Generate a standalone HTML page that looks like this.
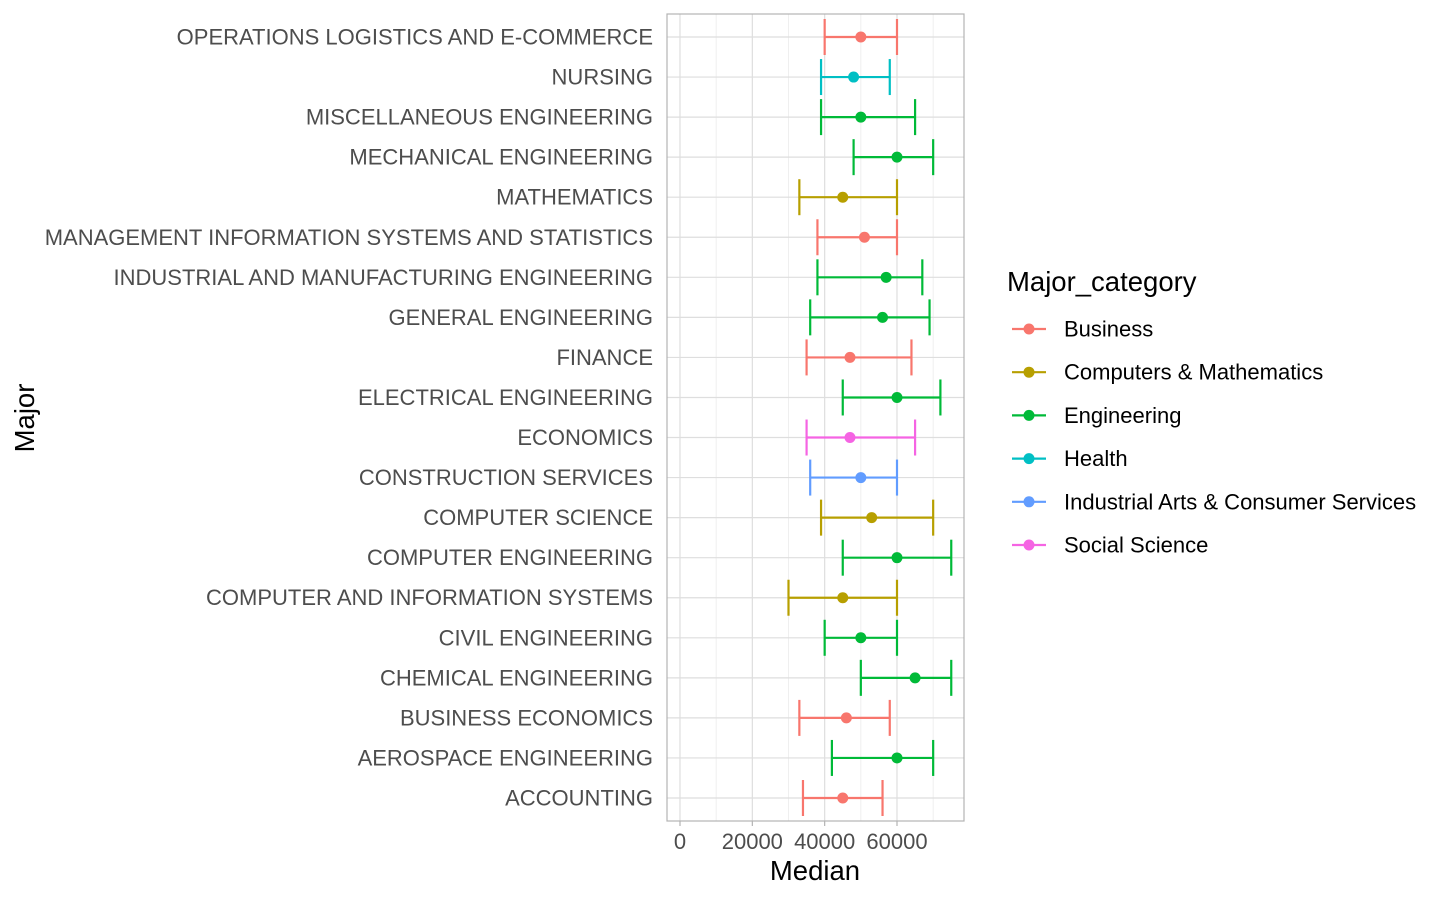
<!DOCTYPE html>
<html><head><meta charset="utf-8"><style>
html,body{margin:0;padding:0;background:#fff;}
svg{display:block;font-family:"Liberation Sans",sans-serif;}
</style></head><body>
<svg id="chart" width="1440" height="900" xmlns="http://www.w3.org/2000/svg"></svg>
<script>
const majors=["ACCOUNTING","AEROSPACE ENGINEERING","BUSINESS ECONOMICS","CHEMICAL ENGINEERING","CIVIL ENGINEERING","COMPUTER AND INFORMATION SYSTEMS","COMPUTER ENGINEERING","COMPUTER SCIENCE","CONSTRUCTION SERVICES","ECONOMICS","ELECTRICAL ENGINEERING","FINANCE","GENERAL ENGINEERING","INDUSTRIAL AND MANUFACTURING ENGINEERING","MANAGEMENT INFORMATION SYSTEMS AND STATISTICS","MATHEMATICS","MECHANICAL ENGINEERING","MISCELLANEOUS ENGINEERING","NURSING","OPERATIONS LOGISTICS AND E-COMMERCE"];
const categoryOf=["Business","Engineering","Business","Engineering","Engineering","Computers & Mathematics","Engineering","Computers & Mathematics","Industrial Arts & Consumer Services","Social Science","Engineering","Business","Engineering","Engineering","Business","Computers & Mathematics","Engineering","Engineering","Health","Business"];
const medians=[45000,60000,46000,65000,50000,45000,60000,53000,50000,47000,60000,47000,56000,57000,51000,45000,60000,50000,48000,50000];
const p25=[34000,42000,33000,50000,40000,30000,45000,39000,36000,35000,45000,35000,36000,38000,38000,33000,48000,39000,39000,40000];
const p75=[56000,70000,58000,75000,60000,60000,75000,70000,60000,65000,72000,64000,69000,67000,60000,60000,70000,65000,58000,60000];
const legendCats=["Business","Computers & Mathematics","Engineering","Health","Industrial Arts & Consumer Services","Social Science"];
const legendColors=["#F8766D","#B79F00","#00BA38","#00BFC4","#619CFF","#F564E3"];
const xTicks=[0,20000,40000,60000];
const xMinor=[10000,30000,50000,70000];

const NS="http://www.w3.org/2000/svg";
const svg=document.getElementById('chart');
function el(tag,attrs,parent){const e=document.createElementNS(NS,tag);for(const k in attrs)e.setAttribute(k,attrs[k]);(parent||svg).appendChild(e);return e;}
const PL=667,PR=964,PT=14,PB=821;
const x=v=>680+v*(897-680)/60000;
const y=i=>798-i*(798-37)/19;
const colorOf=c=>legendColors[legendCats.indexOf(c)];

const panel=el('g',{});


xMinor.forEach(v=>{const l=el('line',{x1:x(v),x2:x(v),y1:PT,y2:PB,stroke:'#efefef','stroke-width':1},panel);});
xTicks.forEach(v=>{const l=el('line',{x1:x(v),x2:x(v),y1:PT,y2:PB,stroke:'#dedede','stroke-width':1.2},panel);});
majors.forEach((m,i)=>{const l=el('line',{x1:PL,x2:PR,y1:y(i),y2:y(i),stroke:'#dedede','stroke-width':1.2},panel);});
const border=el('rect',{x:PL,y:PT,width:PR-PL,height:PB-PT,fill:'none',stroke:'#b3b3b3','stroke-width':1.2},panel);


majors.forEach((m,i)=>{
  const c=colorOf(categoryOf[i]);const yy=y(i);
  const g=el('g',{stroke:c,'stroke-width':2.2,fill:'none'});
  
  
  el('line',{x1:x(p25[i]),x2:x(p75[i]),y1:yy,y2:yy},g);
  el('line',{x1:x(p25[i]),x2:x(p25[i]),y1:yy-18,y2:yy+18},g);
  el('line',{x1:x(p75[i]),x2:x(p75[i]),y1:yy-18,y2:yy+18},g);
  const p=el('circle',{cx:x(medians[i]),cy:yy,r:5.5,fill:c,stroke:'none'});
  
  const t=el('text',{x:653,y:yy+7.5,'text-anchor':'end','font-size':22,fill:'#4d4d4d'});
  t.textContent=m;
});
xTicks.forEach(v=>{
  const t=el('line',{x1:x(v),x2:x(v),y1:PB,y2:PB+5,stroke:'#b3b3b3','stroke-width':1.2});
  
  const l=el('text',{x:x(v),y:849,'text-anchor':'middle','font-size':22,fill:'#4d4d4d'});
  l.textContent=v;
});
const xt=el('text',{x:815,y:880,'text-anchor':'middle','font-size':27.5,fill:'#000'});
xt.textContent='Median';
const yt=el('text',{x:0,y:0,transform:'translate(34,418) rotate(-90)','text-anchor':'middle','font-size':27.5,fill:'#000'});
yt.textContent='Major';

const lg=el('g',{});
const lt=el('text',{x:1007,y:291,'font-size':27.5,fill:'#000'},lg);
lt.textContent='Major_category';
legendCats.forEach((c,i)=>{
  const yy=329+i*43.2;
  const g=el('g',{},lg);
  el('line',{x1:1012,x2:1046,y1:yy,y2:yy,stroke:legendColors[i],'stroke-width':2.2},g);
  el('circle',{cx:1029,cy:yy,r:5.5,fill:legendColors[i]},g);
  const t=el('text',{x:1064,y:yy+7.5,'font-size':22,fill:'#000'},g);t.textContent=c;
});
</script>
</body></html>
